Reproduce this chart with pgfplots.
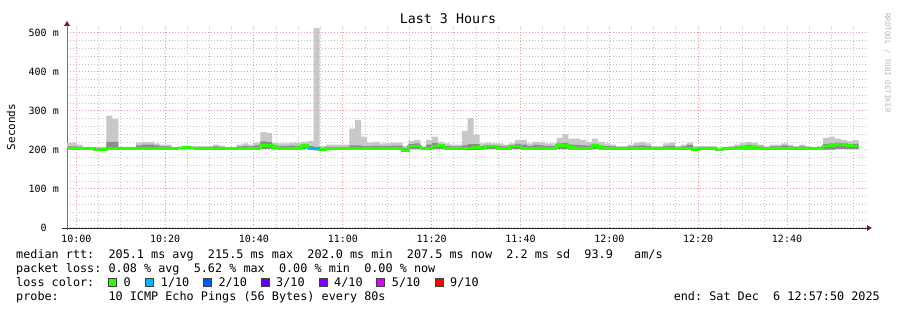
\documentclass[border=0pt]{standalone}
\usepackage{pgfplots}
\pgfplotsset{compat=1.18}
\usepackage{pgfplotstable}
\usepgfplotslibrary{fillbetween}
\usetikzlibrary{arrows.meta}
\usepackage{fontspec}
\setmainfont{DejaVu Sans Mono}
\newfontfamily\mono{DejaVu Sans Mono}
\newcommand\legfont{\mono\fontsize{11.8}{14}\selectfont}
\newcommand\tickfont{\mono\fontsize{10}{12}\selectfont}
\definecolor{smokelight}{RGB}{200,200,200}
\definecolor{smokemid}{RGB}{140,140,140}
\definecolor{mgridc}{RGB}{240,150,150}
\definecolor{gridc}{RGB}{195,195,195}
\definecolor{arrowred}{RGB}{128,16,16}
\definecolor{lossA}{HTML}{26FF00}
\definecolor{lossB}{HTML}{00B8FF}
\definecolor{lossC}{HTML}{0059FF}
\definecolor{lossD}{HTML}{5E00FF}
\definecolor{lossE}{HTML}{7E00FF}
\definecolor{lossF}{HTML}{DD00FF}
\definecolor{lossJ}{HTML}{FF0000}
\frenchspacing

% t = minutes after 10:00, lo/mid/hi in ms, med = median rtt in ms
\pgfplotstableread{
t lo mid hi med
-2.55 201 209 219 205
-1.22 201 209 219 205
0.11 201 208 214 204
1.45 201 206 208 204
2.78 201 205 206 204
4.11 198 204 208 200
5.45 198 204 208 201
6.78 201 221 288 205
8.11 201 221 279 205
9.45 201 206 208 204
10.78 201 206 208 204
12.11 201 206 208 204
13.45 201 212 219 204
14.78 201 214 221 205
16.11 201 214 221 205
17.45 201 212 217 205
18.78 201 209 214 205
20.11 201 209 214 205
21.45 202 205 206 204
22.78 202 207 209 205
24.11 202 208 211 206
25.45 202 207 210 205
26.78 201 207 210 204
28.11 201 207 210 204
29.45 201 207 210 204
30.78 201 209 214 204
32.11 201 208 211 204
33.45 201 205 206 204
34.78 201 205 206 204
36.11 201 209 214 205
37.45 201 210 217 205
38.78 201 209 214 205
40.11 201 212 219 205
41.45 203 222 246 211
42.78 203 220 244 211
44.11 202 212 219 206
45.45 201 210 217 205
46.78 201 210 217 205
48.11 201 211 219 205
49.45 201 211 219 206
50.78 203 215 221 212
52.11 200 210 223 205
53.45 199 208 513 203
54.78 198 205 210 201
56.11 201 208 214 204
57.45 201 208 214 204
58.78 201 208 214 204
60.11 201 208 214 204
61.45 201 212 255 205
62.78 201 212 277 205
64.11 201 210 234 205
65.45 201 210 219 205
66.78 201 211 221 205
68.11 201 210 217 205
69.45 201 210 217 205
70.78 201 211 219 205
72.11 201 211 219 205
73.45 198 205 210 199
74.78 202 215 223 210
76.11 202 217 226 210
77.45 201 207 209 205
78.78 201 214 226 205
80.11 202 218 234 210
81.45 202 215 221 211
82.78 201 210 217 205
84.11 201 209 214 204
85.45 201 209 214 204
86.78 201 212 249 205
88.11 200 215 282 205
89.45 200 215 239 206
90.78 201 210 217 205
92.11 202 213 219 210
93.45 202 212 217 210
94.78 201 210 217 205
96.11 201 209 214 204
97.45 202 213 217 210
98.78 202 216 226 210
100.11 201 214 226 205
101.45 201 210 217 205
102.78 200 213 221 204
104.11 201 212 221 205
105.45 201 210 217 205
106.78 201 210 217 205
108.11 202 217 231 211
109.45 202 218 241 211
110.78 201 214 229 206
112.11 201 213 229 205
113.45 201 212 226 205
114.78 201 211 221 205
116.11 202 216 229 211
117.45 201 212 221 206
118.78 201 210 217 205
120.11 201 209 214 204
121.45 201 207 210 204
122.78 201 207 210 204
124.11 201 209 214 204
125.45 201 211 219 205
126.78 201 212 221 205
128.11 201 210 217 205
129.45 201 207 210 204
130.78 201 207 210 204
132.11 201 210 217 205
133.45 201 211 219 205
134.78 201 207 210 204
136.11 200 209 214 204
137.45 201 213 219 205
138.78 199 205 210 201
140.11 201 207 210 204
141.45 201 207 210 203
142.78 201 207 210 203
144.11 198 203 206 200
145.45 201 205 206 204
146.78 201 207 210 205
148.11 201 209 214 205
149.45 201 211 219 206
150.78 201 213 221 207
152.11 201 211 219 206
153.45 201 209 214 205
154.78 201 207 209 205
156.11 201 209 214 205
157.45 201 209 214 205
158.78 201 212 217 205
160.11 200 209 214 204
161.45 201 207 210 204
162.78 201 209 214 205
164.11 201 207 210 204
165.45 201 206 207 204
166.78 201 207 210 205
168.11 201 216 231 210
169.45 201 217 234 211
170.78 203 219 229 214
172.11 203 218 226 214
173.45 202 215 223 211
174.78 202 216 226 210
176.11 202 216 226 210
}\smoke

\begin{document}
\begin{tikzpicture}[x=1pt,y=1pt]
\path (-67,-82) rectangle (830,228);
\begin{axis}[
  at={(0pt,0pt)}, anchor=south west,
  scale only axis, width=799pt, height=201.24pt,
  xmin=-2.09, xmax=177.78, ymin=0, ymax=516,
  axis x line=bottom, axis y line=left,
  x axis line style={draw=black!85, shorten <=-5pt, shorten >=-6pt, -{Latex[length=5pt,width=6pt,color=arrowred]}},
  y axis line style={draw=black!55, shorten <=-2pt, shorten >=-6pt, -{Latex[length=5pt,width=6pt,color=arrowred]}},
  xtick={0,20,...,160},
  xticklabels={10:00,10:20,10:40,11:00,11:20,11:40,12:00,12:20,12:40},
  minor xtick={5,10,15,25,30,35,45,50,55,65,70,75,85,90,95,105,110,115,125,130,135,145,150,155,165,170,175},
  ytick={0,100,...,500},
  yticklabels={0\phantom{~m},100~m,200~m,300~m,400~m,500~m},
  minor y tick num=4,
  major tick length=0pt, minor tick length=0pt,
  grid=both,
  major grid style={draw=mgridc, line width=1pt, dash pattern=on 1pt off 2pt},
  minor grid style={draw=gridc, line width=1pt, dash pattern=on 1pt off 2pt},
  xticklabel style={font=\tickfont, inner sep=0pt, anchor=north, yshift=-7pt},
  yticklabel style={font=\tickfont, inner sep=0pt, anchor=east, xshift=-8pt},
]
\addplot[name path=hi, const plot, draw=none, forget plot] table[x=t,y=hi]{\smoke};
\addplot[name path=mid, const plot, draw=none, forget plot] table[x=t,y=mid]{\smoke};
\addplot[name path=lo, const plot, draw=none, forget plot] table[x=t,y=lo]{\smoke};
\addplot[fill=smokelight, draw=none] fill between[of=hi and lo];
\addplot[fill=smokemid, draw=none] fill between[of=mid and lo];
\addplot[const plot, draw=lossA, line width=2.7pt] table[x=t,y=med]{\smoke};
\addplot[const plot, draw=lossB, line width=2.7pt] coordinates {(52.11,205) (53.45,203) (54.78,203)};
\end{axis}
% title
\node[font=\mono\fontsize{13.3}{15}\selectfont, anchor=base] at (381,204.5) {Last 3 Hours};
% y label
\node[font=\mono\fontsize{11}{13}\selectfont, rotate=90] at (-56,101) {Seconds};
% watermark
\node[font=\mono\fontsize{7.5}{9}\selectfont, text=black!28, rotate=-90, anchor=west, inner sep=0pt] at (820.5,215) {RRDTOOL / TOBI OETIKER};
% legend rows
\node[font=\legfont, anchor=base west, inner sep=0pt] at (-51,-30.5) {median rtt:~~205.1 ms avg~~215.5 ms max~~202.0 ms min~~207.5 ms now~~2.2 ms sd~~93.9~~~am/s};
\node[font=\legfont, anchor=base west, inner sep=0pt] at (-51,-44.5) {packet loss:~0.08 \% avg~~5.62 \% max~~0.00 \% min~~0.00 \% now};
\node[font=\legfont, anchor=base west, inner sep=0pt] at (-51,-58.5) {loss color:};
\node[font=\legfont, anchor=base west, inner sep=0pt] at (-51,-72.5) {probe:~~~~~~~10 ICMP Echo Pings (56 Bytes) every 80s};
\node[font=\legfont, anchor=base east, inner sep=0pt] at (813,-72.5) {end: Sat Dec~~6 12:57:50 2025};
% loss color boxes
\foreach \bx/\col/\lab in {41.3/lossA/0, 78.7/lossB/1\slash 10, 136.3/lossC/2\slash 10, 194/lossD/3\slash 10, 252/lossE/4\slash 10, 309.7/lossF/5\slash 10, 368/lossJ/9\slash 10}{
  \draw[fill=\col, draw=black!75, line width=0.8pt] (\bx,-58) rectangle ++(8,8);
  \node[font=\legfont, anchor=base west, inner sep=0pt] at (\bx+15,-58.5) {\lab};
}
\end{tikzpicture}
\end{document}
